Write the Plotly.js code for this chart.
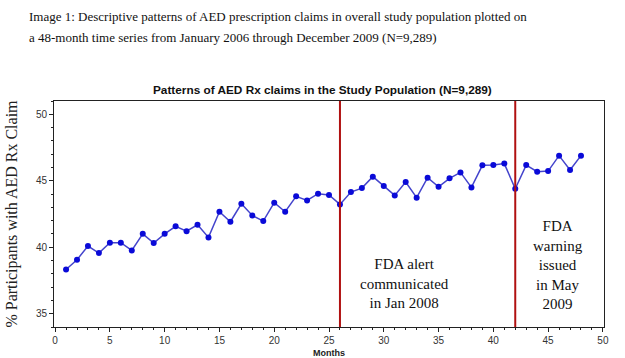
<!DOCTYPE html>
<html>
<head>
<meta charset="utf-8">
<script src="https://cdn.plot.ly/plotly-3.0.1.min.js"></script>
<style>html,body{margin:0;padding:0;background:#fff;}#chart{width:625px;height:358px;}</style>
</head>
<body>
<div id="chart"></div>
<script>
const months = [1,2,3,4,5,6,7,8,9,10,11,12,13,14,15,16,17,18,19,20,21,22,23,24,25,26,27,28,29,30,31,32,33,34,35,36,37,38,39,40,41,42,43,44,45,46,47,48];
const pctClaims = [38.33,39.06,40.09,39.56,40.34,40.34,39.76,41.01,40.31,41.01,41.57,41.21,41.69,40.74,42.67,41.92,43.27,42.39,41.97,43.35,42.67,43.83,43.52,44.03,43.93,43.22,44.15,44.45,45.31,44.60,43.90,44.90,43.73,45.23,44.55,45.18,45.63,44.50,46.16,46.18,46.29,44.40,46.18,45.68,45.73,46.89,45.81,46.89];
const eventMonths = [26, 42];
const eventLabels = ["FDA alert<br>communicated<br>in Jan 2008", "FDA<br>warning<br>issued<br>in May<br>2009"];
const eventLabelX = [31.9, 45.9];
const eventLabelY = [37.27, 38.63];
const xTicks = [0,5,10,15,20,25,30,35,40,45,50];
const yTicks = [35,40,45,50];
const captionLines = ["Image 1: Descriptive patterns of AED prescription claims in overall study population plotted on",
                      "a 48-month time series from January 2006 through December 2009 (N=9,289)"];
const chartTitle = "Patterns of AED Rx claims in the Study Population (N=9,289)";
const xTitle = "Months";
const yTitle = "% Participants with AED Rx Claim";

const serif = "Liberation Serif, Times New Roman, serif";
const sans = "Liberation Sans, Arial, sans-serif";

const trace = {
  x: months, y: pctClaims, type: 'scatter', mode: 'lines+markers',
  line: {color: '#4444cc', width: 1.5},
  marker: {color: '#0a0ad8', size: 6, symbol: 'circle'},
  hoverinfo: 'x+y', showlegend: false
};

const shapes = eventMonths.map(m => ({
  type: 'line', xref: 'x', yref: 'paper', x0: m, x1: m, y0: 0, y1: 1,
  line: {color: '#b01010', width: 2}
}));

const annotations = eventLabels.map((t, i) => ({
  x: eventLabelX[i], y: eventLabelY[i], xref: 'x', yref: 'y',
  text: t, showarrow: false, align: 'center',
  font: {family: serif, size: 15, color: '#111'}
}));
const capY = [1.372, 1.283];
captionLines.forEach((t, i) => annotations.push({
  xref: 'paper', yref: 'paper', x: -0.049, y: capY[i], xanchor: 'left', yanchor: 'middle',
  text: t, showarrow: false, align: 'left',
  font: {family: serif, size: 13, color: '#111'}
}));
annotations.push({
  xref: 'paper', yref: 'paper', x: 0.488, y: 1.049, xanchor: 'center', yanchor: 'middle',
  text: '<b>' + chartTitle + '</b>', showarrow: false,
  font: {family: sans, size: 11.8, color: '#111'}
});

const layout = {
  width: 625, height: 358,
  margin: {l: 54, r: 21, t: 101, b: 31, pad: 0},
  paper_bgcolor: '#fff', plot_bgcolor: '#fff',
  showlegend: false,
  xaxis: {
    range: [-0.1, 50.1], tickvals: xTicks, ticktext: xTicks.map(String),
    ticks: 'outside', ticklen: 4, tickcolor: '#222', tickwidth: 1,
    minor: {dtick: 1, tick0: 0, ticks: 'outside', ticklen: 2, tickcolor: '#222'},
    showgrid: false, zeroline: false, showline: true, linecolor: '#222', linewidth: 1, mirror: true,
    tickfont: {family: sans, size: 10, color: '#333'},
    title: {text: '<b>' + xTitle + '</b>', font: {family: sans, size: 9, color: '#222'}, standoff: 6}
  },
  yaxis: {
    range: [34, 51], tickvals: yTicks, ticktext: yTicks.map(String),
    ticks: 'outside', ticklen: 4, tickcolor: '#222', tickwidth: 1,
    minor: {dtick: 1, tick0: 0, ticks: 'outside', ticklen: 2, tickcolor: '#222'},
    showgrid: false, zeroline: false, showline: true, linecolor: '#222', linewidth: 1, mirror: true,
    tickfont: {family: sans, size: 10, color: '#333'},
    title: {text: yTitle, font: {family: serif, size: 16, color: '#222'}, standoff: 14}
  },
  shapes: shapes,
  annotations: annotations
};

Plotly.newPlot('chart', [trace], layout, {displayModeBar: false, staticPlot: true});
</script>
</body>
</html>
